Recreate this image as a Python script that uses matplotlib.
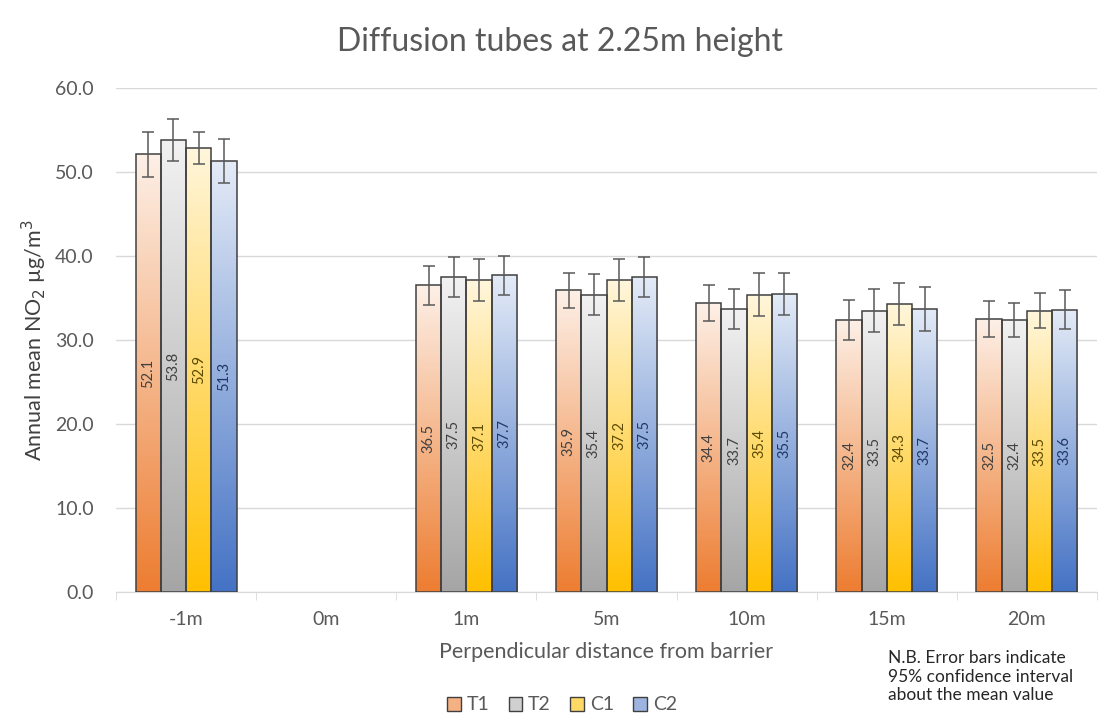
import numpy as np
import matplotlib.pyplot as plt
from matplotlib.colors import LinearSegmentedColormap
from matplotlib.patches import Patch

plt.rcParams['font.family'] = ['Lato', 'DejaVu Sans']

cats = ['-1m', '0m', '1m', '5m', '10m', '15m', '20m']
series = ['T1', 'T2', 'C1', 'C2']
t1 = [52.1, np.nan, 36.5, 35.9, 34.4, 32.4, 32.5]
t2 = [53.8, np.nan, 37.5, 35.4, 33.7, 33.5, 32.4]
c1 = [52.9, np.nan, 37.1, 37.2, 35.4, 34.3, 33.5]
c2 = [51.3, np.nan, 37.7, 37.5, 35.5, 33.7, 33.6]
t1_err = [2.7, np.nan, 2.3, 2.1, 2.1, 2.4, 2.2]
t2_err = [2.5, np.nan, 2.4, 2.4, 2.4, 2.6, 2.0]
c1_err = [1.9, np.nan, 2.5, 2.5, 2.6, 2.5, 2.1]
c2_err = [2.6, np.nan, 2.3, 2.4, 2.5, 2.6, 2.3]

values = [t1, t2, c1, c2]
errors = [t1_err, t2_err, c1_err, c2_err]
# light (top) -> saturated (bottom)
grads = [('#fdf0e7', '#ed7d31'), ('#f2f2f2', '#a5a5a5'),
         ('#fff6dc', '#ffc000'), ('#e4ebf7', '#4472c4')]
label_cols = ['#404040', '#404040', '#5c4a00', '#1f3864']
legend_cols = ['#f4b183', '#d0d0d0', '#ffd966', '#9db3e0']

fig = plt.figure(figsize=(11.08, 7.26), dpi=100)
ax = fig.add_axes([116/1108, 1-592/726, (1097-116)/1108, (592-88)/726])

x = np.arange(len(cats))
w = 0.18
for i in range(4):
    cmap = LinearSegmentedColormap.from_list('g%d' % i, [grads[i][1], grads[i][0]])
    pos = x + (i - 1.5) * w
    bars = ax.bar(pos, values[i], w, facecolor='none', edgecolor='#404040',
                  linewidth=1.1, zorder=3)
    for b, v in zip(bars, values[i]):
        if np.isnan(v):
            continue
        grad = np.linspace(0, 1, 256).reshape(-1, 1)
        im = ax.imshow(grad, cmap=cmap, aspect='auto', origin='lower',
                       extent=[b.get_x(), b.get_x() + w, 0, v], zorder=2)
        im.set_clip_path(b)
        ax.text(b.get_x() + w/2, v/2, '%.1f' % v, rotation=90, ha='center',
                va='center', fontsize=10.5, color=label_cols[i], zorder=5)
    ax.errorbar(pos, values[i], yerr=errors[i], fmt='none', ecolor='#595959',
                elinewidth=1.1, capsize=4, capthick=1.1, zorder=4)

ax.set_xlim(-0.5, len(cats) - 0.5)
ax.set_ylim(0, 60)
ax.set_yticks(np.arange(0, 61, 10))
ax.set_yticklabels(['%.1f' % v for v in np.arange(0, 61, 10)])
ax.set_xticks(x)
ax.set_xticklabels(cats)
ax.set_xticks(np.arange(-0.5, len(cats), 1), minor=True)
ax.tick_params(axis='x', which='major', length=0, pad=14, labelsize=14, labelcolor='#595959')
ax.tick_params(axis='x', which='minor', length=6, color='#d9d9d9')
ax.tick_params(axis='y', length=0, pad=16, labelsize=14, labelcolor='#595959')
ax.grid(axis='y', color='#d9d9d9', linewidth=1, zorder=0)
ax.set_axisbelow(True)
for s in ['left', 'right', 'top']:
    ax.spines[s].set_visible(False)
ax.spines['bottom'].set_color('#d9d9d9')

fig.text(560/1108, 1-42/726, 'Diffusion tubes at 2.25m height', fontsize=23,
         color='#595959', ha='center', va='center')
ax.set_ylabel('Annual mean NO$_2$ µg/m$^3$', fontsize=15.5, color='#404040', labelpad=4)
ax.set_xlabel('Perpendicular distance from barrier', fontsize=15.5, color='#595959', labelpad=10)

handles = [Patch(facecolor=legend_cols[i], edgecolor='#404040', label=series[i]) for i in range(4)]
fig.legend(handles=handles, loc='center', bbox_to_anchor=(562/1108, 1-705/726), ncol=4,
           frameon=False, fontsize=14, handlelength=0.7, handleheight=0.7,
           handletextpad=0.3, columnspacing=1.0, labelcolor='#595959')

fig.text(888/1108, 1-650/726, 'N.B. Error bars indicate\n95% confidence interval\nabout the mean value',
         fontsize=12.5, color='#262626', va='top', ha='left', linespacing=1.2)

fig.savefig('out.png', dpi=100)
